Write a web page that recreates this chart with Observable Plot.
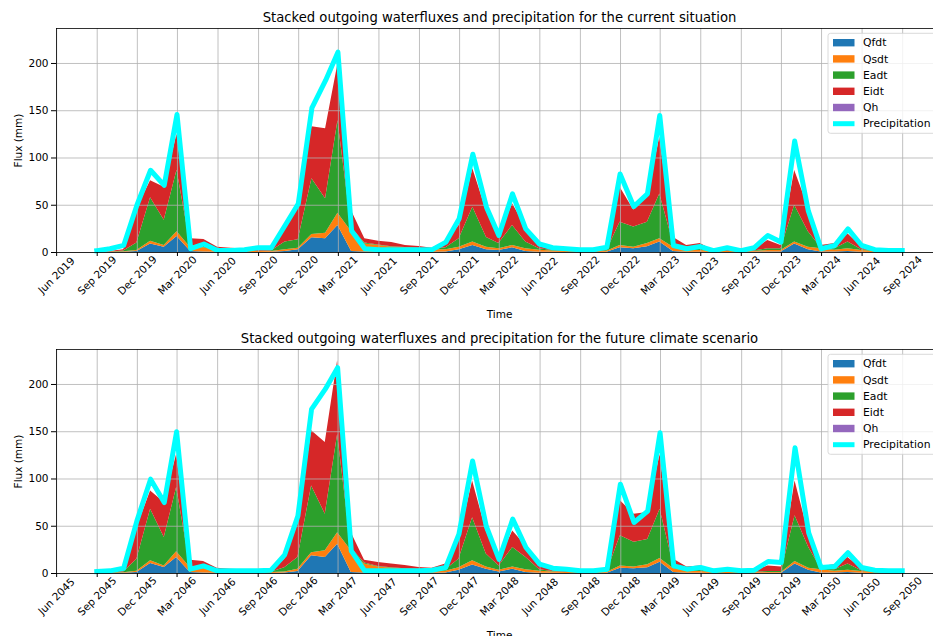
<!DOCTYPE html>
<html><head><meta charset="utf-8">
<script src="https://cdn.jsdelivr.net/npm/d3@7"></script>
<script src="https://cdn.jsdelivr.net/npm/@observablehq/plot@0.6"></script>
<style>
html,body{margin:0;padding:0;overflow:hidden;background:#fff;width:933px;height:636px}
#c svg{display:block;max-width:none !important;width:942px !important;height:321px !important}
</style></head><body><div id="c"></div>
<script>
const seriesNames = ["Qfdt","Qsdt","Eadt","Eidt","Qh"];
const seriesColors = ["#1f77b4","#ff7f0e","#2ca02c","#d62728","#9467bd"];
const precipColor = "#00ffff";
const yTicks = [0,50,100,150,200];
const titles = [
  "Stacked outgoing waterfluxes and precipitation for the current situation",
  "Stacked outgoing waterfluxes and precipitation for the future climate scenario"
];
const startYears = [2019, 2045]; // monthly, Aug startYear .. Aug startYear+5 (month ends)

// ---- current situation ----
const curQfdt = [0,0,0.2,1,9,5.6,17,1,0.5,0.2,0.1,0.1,0.1,0.2,1,3,15.5,14.5,28.5,1,0.5,0.3,0.2,0.2,0.2,0.2,0.5,3,7.4,3,2,5,1,0.3,0.2,0.1,0.1,0.1,0.3,5,4,6,11,1,0.3,0.3,0.1,0.1,0.1,0.2,0.5,0.5,9,3,0.5,0.5,1,0.3,0.1,0.1,0.1];
const curQsdt = [0.3,0.4,0.6,1,3,1.8,5,4,4.5,1.8,1.4,1.1,0.9,0.8,2,1.6,3.5,5.9,13,21,8.5,7.1,5.4,4.8,3.8,2.8,2.5,2.6,3.6,2.6,2,2.4,3,2.2,1.3,0.9,0.7,0.6,0.9,2.4,1.6,3.5,3.5,4.6,2.2,1.7,0.9,0.9,0.7,0.8,1.5,1.5,2,2.6,3.5,2,3,1.7,0.9,0.6,0.4];
const curEadt = [0.1,0.2,0.7,8,46,26.6,65,2,2,0.5,0.5,0.4,0.4,0.6,8,8.8,59,36.6,98,4,1,0.6,0.4,0.4,0.4,0.4,2,8.9,37,10.4,5.5,21.1,7,1.5,0.5,0.3,0.2,0.2,0.8,24.6,21.4,22.5,47.5,3.9,1,2,0.3,0.3,0.2,0.5,2,2,39,16.4,1,1.5,7,1,0.5,0.3,0.3];
const curEidt = [0.2,0.4,1.5,36,18,35,38,7.5,6.7,3.1,2.6,2,1.1,0.9,14,34.6,55,74,60,18,4.5,4,4.5,2,1.9,1.2,7,14,40.5,28,5,23,16,6,1,0.7,0.5,0.4,1,37,18,26.5,60,6.5,3.9,5.5,0.7,0.7,0.5,1.5,8.6,3.4,36.7,26,2.4,5.5,8.7,3,1,0.5,0.4];
const curQh   = [0,0,0,0,0,0,0,0,0,0,0,0,0,0,0,0,0,0,0,0,0,0,0,0,0,0,0,0,0,0,0,0,0,0,0,0,0,0,0,0,0,0,0,0,0,0,0,0,0,0,0,0,0,0,0,0,0,0,0,0,0];
const curPrecip = [2,4,7.5,50,87,71,146,4,9,2,2,3,5,5,28.5,51.5,153,182,212,23,4,3,3,3,3,3,11,35.6,104,48,18,62,25,9,5,4,3,3,5.6,83,48.6,62,145,7.4,4,6.3,2,5,2,5,18,11,118,44,4,7.4,25,7.4,3,2,2];

// ---- future climate scenario ----
const futQfdt = [0,0,0.2,1,10.6,6.3,17,1,0.5,0.2,0.1,0.1,0.1,0.1,0.5,2,18.7,17,31,1,0.5,0.3,0.2,0.2,0.2,0.2,0.5,3.5,9,4.6,1.5,4.6,1,0.3,0.2,0.1,0.1,0.1,0.3,5.6,5,6,12,1,0.3,0.3,0.1,0.1,0.1,0.2,0.3,0.3,10,3.5,0.5,0.5,1,0.3,0.1,0.1,0.1];
const futQsdt = [0.3,0.4,0.6,1.5,2.8,1.7,6,5,4.5,1.8,1.4,1.1,0.9,0.9,1,2.6,3.3,7,12,23,9.5,6.7,5.4,4.4,3.8,2.8,2,2.5,4.4,2.4,2,2.4,3,2.2,1.3,0.9,0.7,0.6,0.9,2.4,2,3.3,4,4,2.2,1.7,0.9,0.9,0.7,0.8,0.7,0.7,2.7,2.1,3.5,2,2.5,1.7,0.9,0.6,0.4];
const futEadt = [0.1,0.2,0.7,12.5,54.6,30,68,1.5,1.5,0.5,0.5,0.4,0.3,0.4,4.5,12.4,70.7,38.8,104,3,1,0.5,0.4,0.4,0.4,0.4,1.5,9,45.6,13.5,4.5,20.5,13,1.5,0.5,0.3,0.2,0.2,0.8,32,26,26.7,52,3,1,1.5,0.3,0.3,0.2,0.5,1,1,48.3,21.9,1,1.5,6.5,1,0.5,0.3,0.3];
const futEidt = [0.2,0.4,1.5,33.6,19.4,37,35,6.5,6.2,3.1,2.6,2.4,0.7,0.8,9,35,58.3,75.7,78,16,3,4.2,4,3.5,1.9,2.2,6,19.6,39,24.5,5.4,17.5,12,7.7,1,0.7,0.5,0.4,1,37,29.8,28.5,58,7,3.5,4.5,0.7,0.7,0.5,1,6,5,37,14.5,2.4,5.3,7,2,1,0.5,0.4];
const futQh   = [0,0,0,0,0,0,0,0,0,0,0,0,0,0,0,0,0,0,0,0,0,0,0,0,0,0,0,0,0,0,0,0,0,0,0,0,0,0,0,0,0,0,0,0,0,0,0,0,0,0,0,0,0,0,0,0,0,0,0,0,0];
const futPrecip = [2,2.8,5.6,55.7,99.8,75,150,4.6,8,2.8,2.8,2.8,2.8,3.5,19.8,61,174,195,217.8,24,3,3,3,3,3,3.5,6.3,41.6,119,50,15,57.5,27.5,10,5.6,4.6,2.8,2.8,4.6,94.5,54,66,149,8,4.6,6.3,2.8,4.6,2.8,3.5,12.7,11.7,133,43,6.3,7.4,22,6.3,3.5,2.8,2.8];

const panels = [
  {title: titles[0], startYear: startYears[0], layers: [curQfdt,curQsdt,curEadt,curEidt,curQh], precip: curPrecip},
  {title: titles[1], startYear: startYears[1], layers: [futQfdt,futQsdt,futEadt,futEidt,futQh], precip: futPrecip}
];

const fmt = d3.utcFormat("%b %Y");
const FONT = "DejaVu Sans, sans-serif";

function makePanel(p) {
  const months = d3.utcMonth.range(new Date(Date.UTC(p.startYear,7,1)), new Date(Date.UTC(p.startYear+5,8,1)));
  const dates = months.map(d => d3.utcDay.offset(d3.utcMonth.offset(d,1), -1));
  const long = [];
  seriesNames.forEach((s, k) => dates.forEach((d, i) => long.push({date: d, series: s, value: p.layers[k][i]})));
  const precip = dates.map((d, i) => ({date: d, value: p.precip[i]}));
  const span = dates[dates.length-1] - dates[0];
  const pad = span * 0.05;
  const domain = [new Date(+dates[0] - pad), new Date(+dates[dates.length-1] + pad)];
  const xTicks = d3.utcMonth.range(d3.utcMonth.ceil(domain[0]), domain[1]).filter(d => [2,5,8,11].includes(d.getUTCMonth()));

  const svg = Plot.plot({
    width: 942, height: 321,
    marginLeft: 56, marginRight: 0, marginTop: 28, marginBottom: 69,
    style: {fontFamily: FONT, fontSize: "10.5px", background: "white", color: "black", overflow: "visible"},
    x: {type: "utc", domain, axis: null},
    y: {domain: [0, 237], axis: null},
    color: {domain: seriesNames, range: seriesColors},
    marks: [
      Plot.areaY(long, {x: "date", y: "value", fill: "series", z: "series", order: seriesNames, curve: "linear"}),
      Plot.gridX(xTicks, {stroke: "#b0b0b0", strokeOpacity: 1, strokeWidth: 0.8}),
      Plot.gridY(yTicks, {stroke: "#b0b0b0", strokeOpacity: 1, strokeWidth: 0.8}),
      Plot.lineY(precip, {x: "date", y: "value", stroke: precipColor, strokeWidth: 5, strokeLinejoin: "round", strokeLinecap: "square"}),
      Plot.frame({stroke: "black", strokeWidth: 0.8}),
      Plot.axisY({ticks: yTicks, tickSize: 5, tickPadding: 3, label: null, fontSize: 10.5}),
      Plot.axisX({ticks: xTicks, tickSize: 4, tickFormat: () => "", label: null}),
      Plot.text(xTicks, {x: d => d, text: d => fmt(d), frameAnchor: "bottom", dy: 23, rotate: -45, textAnchor: "middle", lineAnchor: "middle", fontSize: 10.5}),
      Plot.text(["Time"], {frameAnchor: "bottom", dy: 62, fontSize: 10.5, lineAnchor: "middle"}),
      Plot.text(["Flux (mm)"], {frameAnchor: "left", dx: -38, rotate: -90, fontSize: 10.5, lineAnchor: "middle", textAnchor: "middle"}),
      Plot.text([p.title], {frameAnchor: "top", dy: -11, fontSize: 13.2, lineAnchor: "middle"})
    ]
  });

  // legend
  const g = d3.select(svg).append("g").attr("font-family", FONT).attr("font-size", 10.8).attr("text-anchor", "start");
  g.append("rect").attr("x", 828).attr("y", 33.3).attr("width", 108).attr("height", 100)
    .attr("rx", 2.5).attr("fill", "white").attr("fill-opacity", 0.8).attr("stroke", "#d0d0d0").attr("stroke-width", 0.8);
  const labels = seriesNames.concat(["Precipitation"]);
  labels.forEach((lab, k) => {
    const cy = 42.7 + k * 16.2;
    if (k < seriesNames.length) {
      g.append("rect").attr("x", 833).attr("y", cy - 3.7).attr("width", 21.5).attr("height", 7.4).attr("fill", seriesColors[k]);
    } else {
      g.append("line").attr("x1", 833).attr("x2", 854.5).attr("y1", cy).attr("y2", cy).attr("stroke", precipColor).attr("stroke-width", 5);
    }
    g.append("text").attr("x", 863).attr("y", cy).attr("dy", "0.35em").attr("text-anchor", "start").text(lab);
  });
  return svg;
}

const c = document.getElementById("c");
panels.forEach(p => c.appendChild(makePanel(p)));
</script></body></html>
